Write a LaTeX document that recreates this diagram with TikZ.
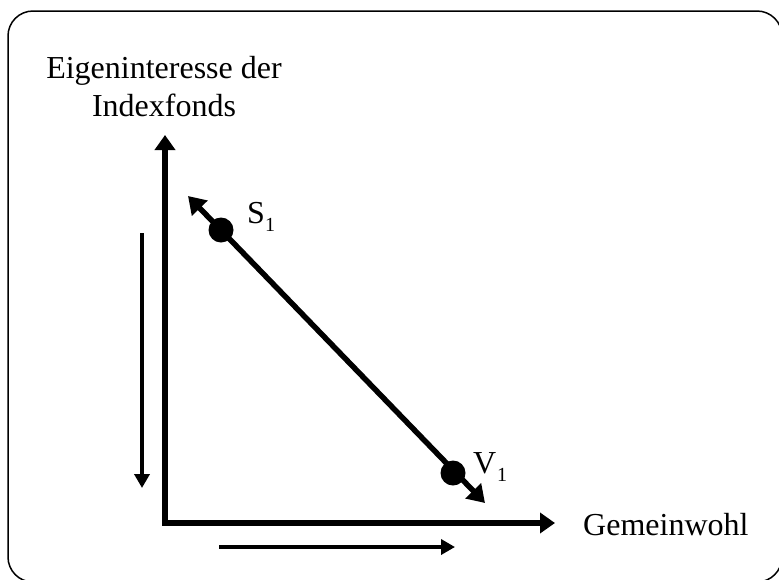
\documentclass[tikz,border=0pt]{standalone}
\usepackage{fontspec}
\setmainfont{Liberation Serif}
\usetikzlibrary{arrows.meta}
\begin{document}
\begin{tikzpicture}[x=1pt,y=-1pt,
  bighead/.tip={Triangle[length=15pt,width=20pt]},
  diahead/.tip={Triangle[length=17pt,width=21pt]},
  smallhead/.tip={Triangle[length=14pt,width=15pt]},
  frame/.style={draw=black,line width=1.5pt,rounded corners=25pt},
  axisline/.style={line width=5.5pt,line join=miter},
  thinarrow/.style={line width=3.5pt,-smallhead},
  dot/.style={circle,fill=black,inner sep=0pt,minimum size=25pt},
  lbl/.style={inner sep=0pt,anchor=base west,font=\fontsize{32}{37}\selectfont},
  sub/.style={inner sep=0pt,anchor=base west,font=\fontsize{20}{20}\selectfont}]
\useasboundingbox (0,0) rectangle (779,579);
\draw[frame] (8,11) rectangle (782,582);
% axes
\coordinate (ytip) at (165,135);
\coordinate (origin) at (165,523);
\coordinate (xtip) at (555,523);
\draw[axisline,bighead-bighead] (ytip) -- (origin) -- (xtip);
% trend arrows
\coordinate (dstart) at (142,233);
\coordinate (dend) at (142,488);
\draw[thinarrow] (dstart) -- (dend);
\coordinate (rstart) at (219,547);
\coordinate (rend) at (455,547);
\draw[thinarrow] (rstart) -- (rend);
% diagonal
\coordinate (stip) at (188,196);
\coordinate (vtip) at (485,503);
\draw[line width=5.5pt,diahead-diahead] (stip) -- (vtip);
\node[dot] (S) at (221,230) {};
\node[dot] (V) at (453,473) {};
% labels
\node[lbl] (Slbl) at (247,223) {S};
\node[sub] (Ssub) at (265,231) {1};
\node[lbl] (Vlbl) at (473,473) {V};
\node[sub] (Vsub) at (497,481) {1};
\node[inner sep=0pt,align=center,anchor=base,font=\fontsize{32}{38}\selectfont] (ylbl) at (164,116) {Eigeninteresse der\\Indexfonds};
\node[lbl] (xlbl) at (583,535) {Gemeinwohl};
\end{tikzpicture}
\end{document}
